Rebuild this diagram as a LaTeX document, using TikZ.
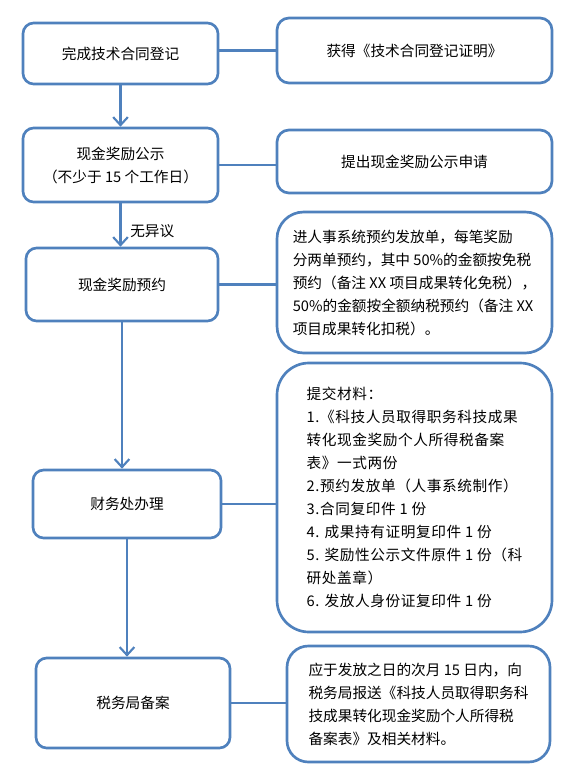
\documentclass[tikz,border=0pt]{standalone}
\usepackage{fontspec}
\setmainfont{Noto Sans CJK SC}
\usetikzlibrary{arrows.meta}
\definecolor{lineblue}{HTML}{4F81BD}
\begin{document}
\begin{tikzpicture}[x=0.75pt,y=-0.75pt,
  box/.style={draw=lineblue, line width=2pt, fill=white, rounded corners=#1,
    align=center, inner sep=0pt, font=\fontsize{11}{17.25}\selectfont},
  box/.default=8pt,
  tbox/.style={box=#1, align=left},
  link/.style={draw=lineblue, line width=1.6pt},
  flow/.style={link, -{Straight Barb[length=6pt,width=11pt]}},
  lbl/.style={font=\fontsize{11}{13}\selectfont, anchor=west, inner sep=0pt}
]
\useasboundingbox (0,0) rectangle (567,774);

% left column
\node[box, minimum width=146.25pt, minimum height=45.75pt] (b1) at (120.5,53.5) {完成技术合同登记};
\node[box, minimum width=146.25pt, minimum height=55.5pt] (b2) at (120.5,165) {现金奖励公示\\（不少于 15 个工作日）};
\node[box, minimum width=144pt, minimum height=54.75pt] (b3) at (122,284.5) {现金奖励预约};
\node[box, minimum width=141pt, minimum height=51pt] (b4) at (127,504) {财务处办理};
\node[box, minimum width=145.5pt, minimum height=67.5pt] (b5) at (133,703) {税务局备案};

% right column
\node[box=9pt, minimum width=206.25pt, minimum height=48.75pt] (r1) at (414.5,50.5) {获得《技术合同登记证明》};
\node[box=9pt, minimum width=206.25pt, minimum height=47.25pt] (r2) at (414.5,161.5) {提出现金奖励公示申请};
\node[tbox=20pt, minimum width=206.25pt, minimum height=105.75pt] (r3) at (414.5,282.5)
 {进人事系统预约发放单，每笔奖励\\
  分两单预约，其中 50\%的金额按免税\\
  预约（备注 XX 项目成果转化免税），\\
  50\%的金额按全额纳税预约（备注 XX\\
  项目成果转化扣税）。};
\node[tbox=24pt, minimum width=206.25pt, minimum height=201.75pt,
      font=\fontsize{11}{17.25}\selectfont\addfontfeature{LetterSpace=4}] (r4) at (414.5,497.5)
 {提交材料：\\
  1.《科技人员取得职务科技成果\\
  转化现金奖励个人所得税备案\\
  表》一式两份\\
  2.预约发放单（人事系统制作）\\
  3.合同复印件 1 份\\
  4. 成果持有证明复印件 1 份\\
  5. 奖励性公示文件原件 1 份（科\\
  研处盖章）\\
  6. 发放人身份证复印件 1 份};
\node[tbox=16pt, minimum width=197.25pt, minimum height=87pt] (r5) at (418.5,704)
 {应于发放之日的次月 15 日内，向\\
  税务局报送《科技人员取得职务科\\
  技成果转化现金奖励个人所得税\\
  备案表》及相关材料。};

% vertical flow
\draw[flow] (b1.south) -- (b1.south |- b2.north);
\draw[flow] (b2.south) -- (b2.south |- b3.north);
\draw[flow] (b3.south) -- (b3.south |- b4.north);
\draw[flow] (b4.south) -- (b4.south |- b5.north);
\node[lbl] (noobj) at (130,231) {无异议};

% horizontal links
\draw[link] (b1.east |- r1.west) -- (r1.west);
\draw[link] (b2.east) -- (b2.east -| r2.west);
\draw[link] (b3.east) -- (b3.east -| r3.west);
\draw[link] (b4.east) -- (b4.east -| r4.west);
\draw[link] (b5.east) -- (b5.east -| r5.west);
\end{tikzpicture}
\end{document}
